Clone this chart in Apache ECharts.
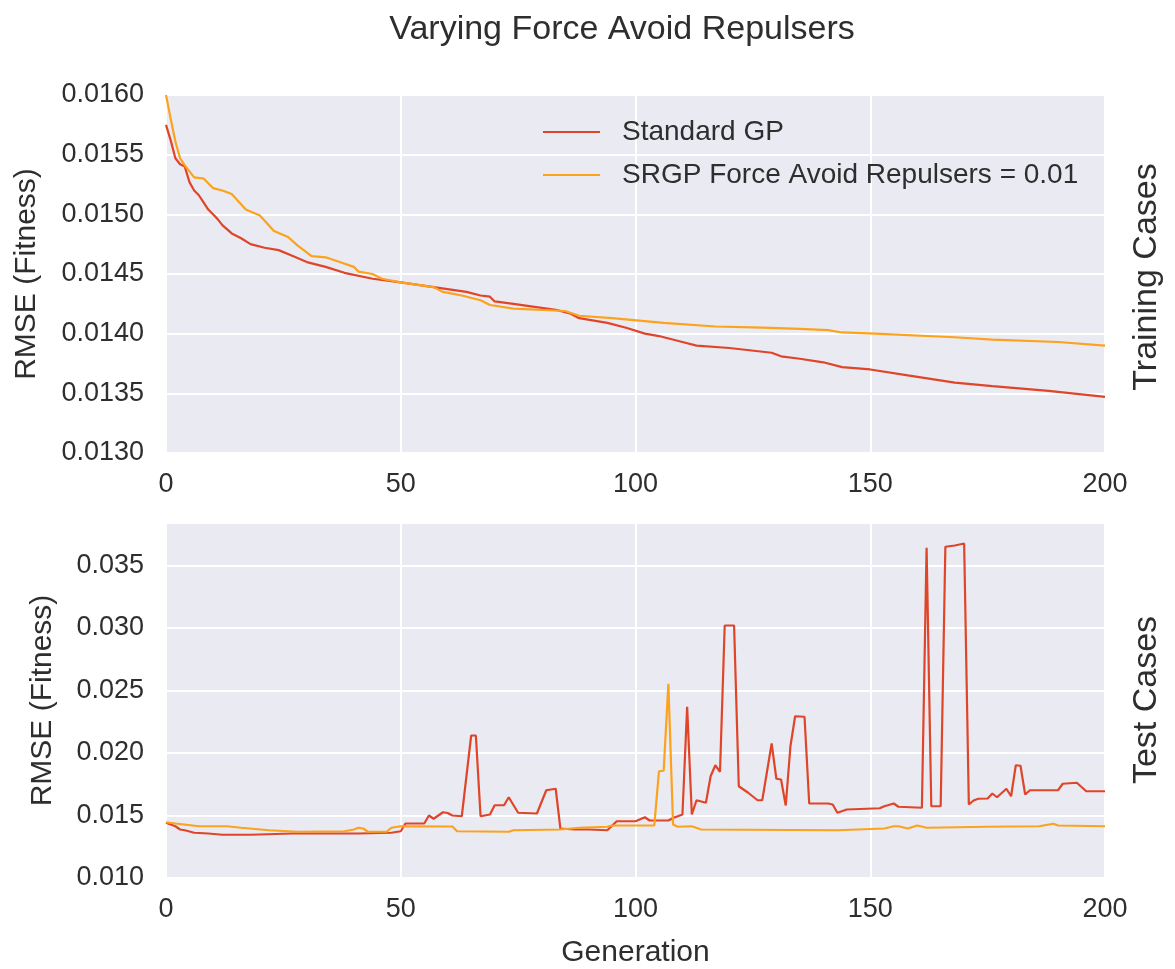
<!DOCTYPE html>
<html>
<head>
<meta charset="utf-8">
<script src="https://cdn.jsdelivr.net/npm/echarts@6/dist/echarts.min.js"></script>
<style>
  html, body { margin: 0; padding: 0; background: #ffffff; }
  #chart { width: 1175px; height: 969px; }
</style>
</head>
<body>
<div id="chart"></div>
<script>
// Series names and axis ticks
const seriesNames = ['Standard GP', 'SRGP Force Avoid Repulsers = 0.01'];
const genTicks = [0, 50, 100, 150, 200];
const trainTicks = [0.0130, 0.0135, 0.0140, 0.0145, 0.0150, 0.0155, 0.0160];
const testTicks = [0.010, 0.015, 0.020, 0.025, 0.030, 0.035];

// Training cases: Standard GP (generation, RMSE)
const trainGenGP = [0, 1, 2, 3, 4, 5, 6, 7, 8, 9, 10, 11, 12, 14, 16, 18, 21, 24, 27, 30, 34, 38, 44, 50, 57, 64, 67, 69, 70, 74, 83, 86, 88, 94, 98, 102, 105, 110, 113, 120, 129, 131, 135, 140, 144, 150, 158, 168, 176, 188, 200];
const trainGP = [0.01575, 0.01562, 0.01547, 0.01542, 0.01540, 0.01527, 0.01520, 0.01516, 0.01510, 0.01504, 0.01500, 0.01496, 0.01491, 0.01484, 0.01480, 0.01475, 0.01472, 0.01470, 0.01465, 0.01460, 0.01456, 0.01451, 0.01446, 0.01443, 0.01439, 0.01435, 0.01432, 0.01431, 0.01427, 0.01425, 0.01420, 0.01417, 0.01413, 0.01409, 0.01405, 0.01400, 0.01398, 0.01393, 0.01390, 0.01388, 0.01384, 0.01381, 0.01379, 0.01376, 0.01372, 0.01370, 0.01365, 0.01359, 0.01356, 0.01352, 0.01347];

// Training cases: SRGP
const trainGenSR = [0, 1, 2, 3, 4, 6, 8, 10, 12, 14, 17, 20, 23, 26, 28, 31, 34, 37, 40, 41, 44, 46, 50, 57, 59, 63, 67, 69, 74, 85, 88, 95, 106, 117, 127, 135, 141, 144, 151, 168, 176, 190, 200];
const trainSR = [0.01600, 0.01580, 0.01561, 0.01547, 0.01541, 0.01531, 0.01530, 0.01522, 0.01520, 0.01517, 0.01504, 0.01499, 0.01486, 0.01481, 0.01474, 0.01465, 0.01464, 0.01460, 0.01456, 0.01452, 0.01450, 0.01446, 0.01443, 0.01439, 0.01435, 0.01432, 0.01428, 0.01424, 0.01421, 0.01419, 0.01415, 0.01413, 0.01409, 0.01406, 0.01405, 0.01404, 0.01403, 0.01401, 0.01400, 0.01397, 0.01395, 0.01393, 0.01390];

// Test cases: Standard GP
const testGenGP = [0, 2, 3, 4, 6, 9, 12, 18, 27, 41, 48, 50, 51, 55, 56, 57, 59, 60, 61, 63, 65, 66, 67, 69, 70, 72, 73, 75, 79, 81, 83, 84, 87, 90, 94, 96, 100, 102, 103, 107, 108, 110, 111, 112, 113, 115, 116, 117, 118, 119, 121, 122, 124, 126, 127, 129, 130, 131, 132, 133, 134, 136, 137, 141, 142, 143, 145, 152, 153, 155, 156, 161, 162, 163, 165, 166, 168, 170, 171, 172, 173, 175, 176, 177, 179, 180, 181, 182, 183, 184, 190, 191, 194, 196, 200];
const testGP = [0.01442, 0.01414, 0.01388, 0.01382, 0.01362, 0.01356, 0.01346, 0.01346, 0.01356, 0.01356, 0.01362, 0.01374, 0.01436, 0.01436, 0.01500, 0.01474, 0.01526, 0.01520, 0.01500, 0.01494, 0.02140, 0.02140, 0.01494, 0.01508, 0.01582, 0.01582, 0.01646, 0.01522, 0.01516, 0.01702, 0.01714, 0.01396, 0.01388, 0.01388, 0.01382, 0.01454, 0.01454, 0.01486, 0.01460, 0.01460, 0.01480, 0.01508, 0.02370, 0.01508, 0.01622, 0.01602, 0.01814, 0.01902, 0.01850, 0.03020, 0.03020, 0.01734, 0.01682, 0.01622, 0.01622, 0.02076, 0.01794, 0.01788, 0.01580, 0.02054, 0.02294, 0.02290, 0.01596, 0.01596, 0.01588, 0.01522, 0.01548, 0.01558, 0.01574, 0.01596, 0.01570, 0.01562, 0.03642, 0.01574, 0.01574, 0.03650, 0.03660, 0.03676, 0.01588, 0.01620, 0.01634, 0.01636, 0.01676, 0.01646, 0.01714, 0.01654, 0.01902, 0.01898, 0.01668, 0.01702, 0.01702, 0.01754, 0.01762, 0.01694, 0.01694];

// Test cases: SRGP
const testGenSR = [0, 2, 7, 13, 16, 22, 28, 38, 40, 41, 42, 43, 47, 48, 50, 61, 62, 73, 74, 84, 88, 94, 95, 104, 105, 106, 107, 108, 109, 112, 114, 143, 153, 155, 156, 158, 160, 162, 175, 186, 189, 190, 200];
const testSR = [0.01446, 0.01436, 0.01414, 0.01414, 0.01402, 0.01382, 0.01370, 0.01374, 0.01388, 0.01402, 0.01396, 0.01370, 0.01370, 0.01402, 0.01414, 0.01412, 0.01374, 0.01370, 0.01382, 0.01388, 0.01402, 0.01410, 0.01420, 0.01420, 0.01854, 0.01858, 0.02554, 0.01428, 0.01410, 0.01414, 0.01388, 0.01382, 0.01396, 0.01414, 0.01414, 0.01396, 0.01420, 0.01402, 0.01410, 0.01414, 0.01434, 0.01420, 0.01414];

const zip = (xs, ys) => xs.map((x, i) => [x, ys[i]]);

const FONT = '"Liberation Sans", Arial, Helvetica, sans-serif';
const TEXT = '#2e2e2e';
const RED = '#df4528';
const ORANGE = '#fca21c';
const PANEL = '#eaeaf2';

const chart = echarts.init(document.getElementById('chart'), null, { renderer: 'canvas' });

function xAxisFor(gridIndex, withName) {
  return {
    type: 'value', gridIndex,
    min: genTicks[0], max: genTicks[genTicks.length - 1], interval: genTicks[1] - genTicks[0],
    axisLine: { show: false }, axisTick: { show: false },
    axisLabel: { fontFamily: FONT, fontSize: 27, color: TEXT, margin: 18 },
    splitLine: { show: true, lineStyle: { color: '#ffffff', width: 2 } },
    name: withName ? 'Generation' : '',
    nameLocation: 'middle', nameGap: 60,
    nameTextStyle: { fontFamily: FONT, fontSize: 30, color: TEXT }
  };
}

function yAxisFor(gridIndex, ticks, digits, nameGap, max) {
  return {
    type: 'value', gridIndex,
    min: ticks[0], max: max, interval: ticks[1] - ticks[0],
    axisLine: { show: false }, axisTick: { show: false },
    axisLabel: {
      fontFamily: FONT, fontSize: 27, color: TEXT, margin: 22,
      showMaxLabel: max <= ticks[ticks.length - 1] + 1e-9,
      formatter: v => v.toFixed(digits)
    },
    splitLine: { show: true, lineStyle: { color: '#ffffff', width: 2 } },
    name: 'RMSE (Fitness)', nameLocation: 'middle', nameGap,
    nameTextStyle: { fontFamily: FONT, fontSize: 30, color: TEXT }
  };
}

function lineSeries(name, data, color, axisIndex) {
  return {
    name, type: 'line', data,
    xAxisIndex: axisIndex, yAxisIndex: axisIndex,
    symbol: 'none', smooth: false, animation: false,
    lineStyle: { color, width: 2.2 }, itemStyle: { color }
  };
}

chart.setOption({
  backgroundColor: '#ffffff',
  animation: false,
  grid: [
    { left: 166, right: 70, top: 95, height: 358, show: true, backgroundColor: PANEL, borderWidth: 0 },
    { left: 166, right: 70, top: 523, height: 355.5, show: true, backgroundColor: PANEL, borderWidth: 0 }
  ],
  xAxis: [xAxisFor(0, false), xAxisFor(1, true)],
  yAxis: [
    yAxisFor(0, trainTicks, 4, 124, trainTicks[trainTicks.length - 1]),
    yAxisFor(1, testTicks, 3, 108, 0.0384)
  ],
  legend: {
    data: seriesNames,
    orient: 'vertical', left: 543, top: 118, padding: 0,
    icon: 'rect', itemWidth: 57, itemHeight: 2, itemGap: 15,
    textStyle: { fontFamily: FONT, fontSize: 28, color: TEXT, padding: [0, 0, 0, 17] }
  },
  graphic: [
    { type: 'text', x: 622, y: 30, silent: true,
      style: { text: 'Varying Force Avoid Repulsers', fontFamily: FONT, fontSize: 34, fill: TEXT, align: 'center', verticalAlign: 'middle' } },
    { type: 'text', x: 1147, y: 277, rotation: Math.PI / 2, silent: true,
      style: { text: 'Training Cases', fontFamily: FONT, fontSize: 34, fill: TEXT, align: 'center', verticalAlign: 'middle' } },
    { type: 'text', x: 1147, y: 700, rotation: Math.PI / 2, silent: true,
      style: { text: 'Test Cases', fontFamily: FONT, fontSize: 34, fill: TEXT, align: 'center', verticalAlign: 'middle' } }
  ],
  series: [
    lineSeries(seriesNames[0], zip(trainGenGP, trainGP), RED, 0),
    lineSeries(seriesNames[1], zip(trainGenSR, trainSR), ORANGE, 0),
    lineSeries(seriesNames[0], zip(testGenGP, testGP), RED, 1),
    lineSeries(seriesNames[1], zip(testGenSR, testSR), ORANGE, 1)
  ]
});
</script>
</body>
</html>
